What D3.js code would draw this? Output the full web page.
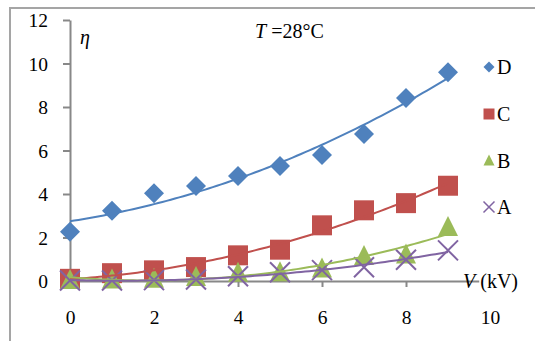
<!DOCTYPE html>
<html>
<head>
<meta charset="utf-8">
<script src="https://cdn.jsdelivr.net/npm/d3@7"></script>
</head>
<body style="margin:0;background:#fff">
<script>
// voltage (kV)
const voltage = [0, 1, 2, 3, 4, 5, 6, 7, 8, 9]
// efficiency eta for each series
const seriesD = [2.27, 3.23, 4.03, 4.37, 4.83, 5.29, 5.79, 6.76, 8.41, 9.6]
const seriesC = [0.1, 0.36, 0.49, 0.64, 1.18, 1.44, 2.56, 3.25, 3.58, 4.38]
const seriesB = [0.05, 0.07, 0.1, 0.18, 0.38, 0.4, 0.58, 1.15, 1.22, 2.48]
const seriesA = [0.02, 0.02, 0.04, 0.07, 0.22, 0.4, 0.5, 0.63, 0.98, 1.41]
const seriesNames = ['D', 'C', 'B', 'A']
const xTicks = [0, 2, 4, 6, 8, 10]
const yTicks = [0, 2, 4, 6, 8, 10, 12]

const colors = { D: '#4f81bd', C: '#c0504d', B: '#9bbb59', A: '#8064a2' }
const shapes = { D: 'diamond', C: 'square', B: 'triangle', A: 'cross' }

const width = 535
const height = 341
const serif = '"Liberation Serif"'

const svg = d3.select('body').append('svg')
  .attr('width', width)
  .attr('height', height)

// outer frame (cropped at right and bottom)
svg.append('path')
  .attr('d', 'M10,341V8H535')
  .attr('fill', 'none')
  .attr('stroke', '#a5a5a5')
  .attr('stroke-width', 2)

const x = d3.scaleLinear().domain([0, 10]).range([70, 490])
const y = d3.scaleLinear().domain([0, 12]).range([281, 20])

const axisColor = '#888'

const yAxis = svg.append('g')
  .attr('transform', `translate(${x(0)},0)`)
  .call(d3.axisLeft(y).tickValues(yTicks).tickSize(7).tickSizeOuter(0).tickPadding(15).tickFormat(d3.format('d')))
yAxis.attr('font-family', null).attr('font-size', null)
yAxis.select('.domain').attr('stroke', axisColor).attr('stroke-width', 2)
yAxis.selectAll('.tick line').attr('stroke', axisColor).attr('stroke-width', 2)
yAxis.selectAll('.tick text')
  .style('font-family', serif)
  .style('font-size', '19.5px')
  .attr('dy', '0.34em')

const xAxis = svg.append('g')
  .attr('transform', `translate(0,${y(0)})`)
  .call(d3.axisBottom(x).tickValues(xTicks).tickSize(6).tickSizeOuter(0).tickFormat(d3.format('d')))
xAxis.attr('font-family', null).attr('font-size', null)
xAxis.select('.domain').attr('stroke', axisColor).attr('stroke-width', 2)
xAxis.selectAll('.tick line').attr('stroke', axisColor).attr('stroke-width', 2)
xAxis.selectAll('.tick text')
  .style('font-family', serif)
  .style('font-size', '19.5px')
  .attr('y', 43)
  .attr('dy', null)

// marker shapes
function markerPath(shape, s) {
  const h = s / 2
  if (shape === 'diamond') return `M0,${-h}L${h},0L0,${h}L${-h},0Z`
  if (shape === 'square') return `M${-h},${-h}H${h}V${h}H${-h}Z`
  if (shape === 'triangle') return `M0,${-h * 1.1}L${h},${h * 0.9}L${-h},${h * 0.9}Z`
  return `M${-h},${-h}L${h},${h}M${h},${-h}L${-h},${h}`
}

function drawMarker(g, shape, color, s) {
  const p = g.append('path').attr('d', markerPath(shape, s))
  if (shape === 'cross') {
    p.attr('fill', 'none').attr('stroke', color).attr('stroke-width', s > 12 ? 2 : 1.5)
  } else {
    p.attr('fill', color)
  }
  return p
}

// quadratic least squares trendline
function polyfit2(xs, ys) {
  const n = xs.length
  let s = [0, 0, 0, 0, 0], t = [0, 0, 0]
  for (let i = 0; i < n; i++) {
    for (let k = 0; k < 5; k++) s[k] += Math.pow(xs[i], k)
    for (let k = 0; k < 3; k++) t[k] += ys[i] * Math.pow(xs[i], k)
  }
  const m = [[s[0], s[1], s[2], t[0]], [s[1], s[2], s[3], t[1]], [s[2], s[3], s[4], t[2]]]
  for (let i = 0; i < 3; i++) {
    for (let j = i + 1; j < 3; j++) {
      const f = m[j][i] / m[i][i]
      for (let k = i; k < 4; k++) m[j][k] -= f * m[i][k]
    }
  }
  const c = [0, 0, 0]
  for (let i = 2; i >= 0; i--) {
    let v = m[i][3]
    for (let k = i + 1; k < 3; k++) v -= m[i][k] * c[k]
    c[i] = v / m[i][i]
  }
  return v => c[0] + c[1] * v + c[2] * v * v
}

const data = { D: seriesD, C: seriesC, B: seriesB, A: seriesA }

// markers, D first so A ends up on top
seriesNames.forEach(name => {
  const g = svg.append('g')
  data[name].forEach((val, i) => {
    const mg = g.append('g').attr('transform', `translate(${x(voltage[i])},${y(val)})`)
    drawMarker(mg, shapes[name], colors[name], 20)
  })
})

// trendlines
const line = d3.line().x(d => x(d[0])).y(d => y(d[1]))
seriesNames.forEach(name => {
  const f = polyfit2(voltage, data[name])
  const pts = d3.range(0, 9.01, 0.1).map(v => [v, f(v)])
  svg.append('path')
    .datum(pts)
    .attr('d', line)
    .attr('fill', 'none')
    .attr('stroke', colors[name])
    .attr('stroke-width', 2)
})

function addText(x0, y0, size) {
  return svg.append('text')
    .attr('x', x0)
    .attr('y', y0)
    .style('font-family', serif)
    .style('font-size', size + 'px')
    .attr('fill', '#000')
}

// axis titles
const labelBg = svg.append('rect').attr('fill', '#fff')
const xLabel = addText(463, 288, 20)
xLabel.append('tspan').style('font-style', 'italic').text('V')
const kv = xLabel.append('tspan').text(' (kV)')

// white box behind "(kV)" so the axis does not show through it
const bb = kv.node().getBBox()
labelBg
  .attr('x', bb.x + 4)
  .attr('y', bb.y)
  .attr('width', bb.width)
  .attr('height', bb.height)

addText(80, 44, 20)
  .style('font-style', 'italic')
  .text('η')

const title = addText(255, 38, 20)
title.append('tspan').style('font-style', 'italic').text('T')
title.append('tspan').text(' =28°C')

// legend
const legendY = [67, 114, 160.5, 207]
seriesNames.forEach((name, i) => {
  const lg = svg.append('g').attr('transform', `translate(489,${legendY[i]})`)
  drawMarker(lg, shapes[name], colors[name], 11)
  lg.append('text')
    .attr('x', 8)
    .attr('dy', '0.35em')
    .style('font-family', serif)
    .style('font-size', '20px')
    .attr('fill', '#000')
    .text(name)
})
</script>
</body>
</html>
